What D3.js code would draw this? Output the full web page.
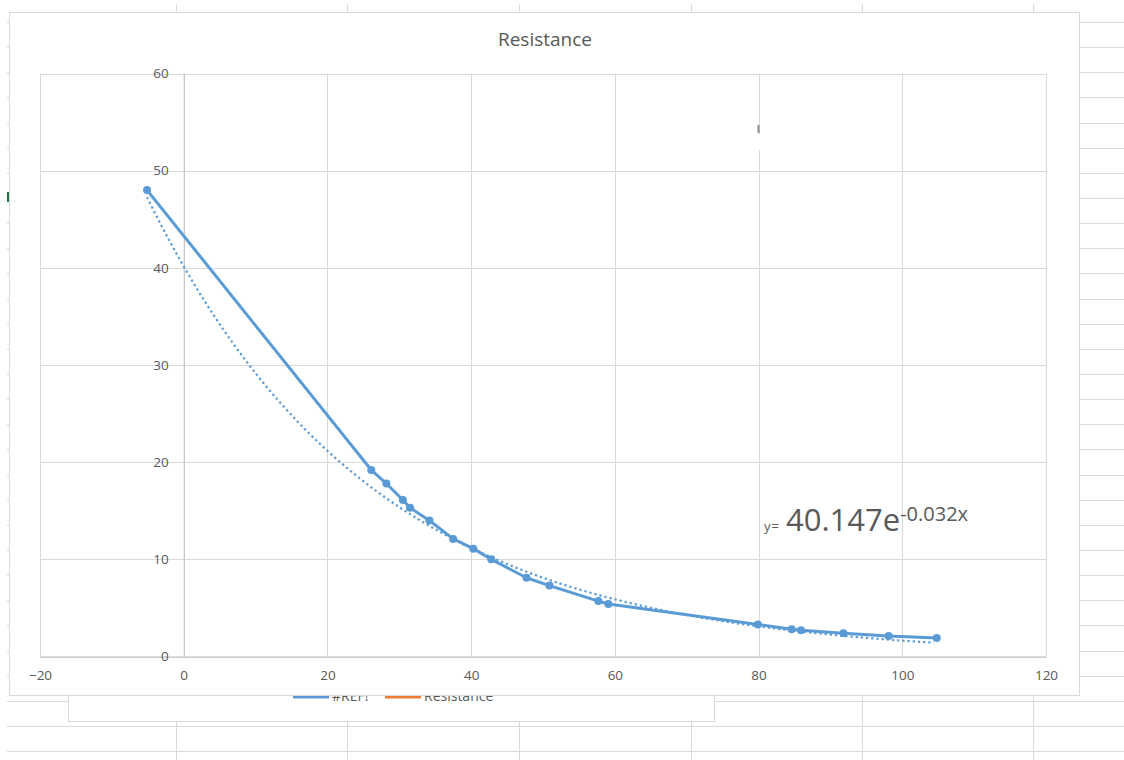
<!DOCTYPE html>
<html>
<head>
<meta charset="utf-8">
<script src="https://cdn.jsdelivr.net/npm/d3@7"></script>
<style>
  body { margin: 0; background: #fff; }
  svg { display: block; font-family: "Open Sans", "Noto Sans", sans-serif; }
</style>
</head>
<body>
<div id="chart"></div>
<script>
const xValues = [-5.1, 26.1, 28.2, 30.5, 31.5, 34.2, 37.5, 40.3, 42.8, 47.7, 50.9, 57.7, 59.1, 79.9, 84.6, 85.9, 91.8, 98.1, 104.8];
const resistance = [48.0, 19.2, 17.8, 16.1, 15.3, 14.0, 12.1, 11.1, 10.0, 8.1, 7.3, 5.7, 5.4, 3.3, 2.8, 2.7, 2.4, 2.1, 1.9];

const xTicks = [-20, 0, 20, 40, 60, 80, 100, 120];
const yTicks = [0, 10, 20, 30, 40, 50, 60];

// exponential trendline shown on the chart: y = 40.147e^-0.032x
const trendA = 40.147;
const trendB = -0.032;

const legendNames = ["#REF!", "Resistance"];
const legendColours = ["#5B9BD5", "#ED7D31"];

const W = 1124, H = 760;
const blue = "#5B9BD5";
const textCol = "#595959";
const gridCol = "#D9D9D9";

const svg = d3.select("#chart").append("svg")
  .attr("width", W)
  .attr("height", H);

// spreadsheet cells behind the chart
const sheet = svg.append("g").attr("stroke", "#DADADA").attr("stroke-width", 1);
d3.range(0, 30).forEach((k) => {
  const yy = Math.round(22 + 25.14 * k) + 0.5;
  sheet.append("line").attr("x1", 7).attr("x2", W).attr("y1", yy).attr("y2", yy);
});
[176, 347, 519, 691, 862, 1033].forEach((cx) => {
  sheet.append("line").attr("x1", cx + 0.5).attr("x2", cx + 0.5).attr("y1", 4).attr("y2", H);
});

// legend box, mostly hidden behind the chart frame
const legend = svg.append("g");
legend.append("rect")
  .attr("x", 68.5).attr("y", 660.5)
  .attr("width", 646).attr("height", 61)
  .attr("fill", "#fff").attr("stroke", gridCol);
const legendX = [293, 385];
legendNames.forEach((name, i) => {
  legend.append("line")
    .attr("x1", legendX[i]).attr("x2", legendX[i] + 36)
    .attr("y1", 697).attr("y2", 697)
    .attr("stroke", legendColours[i]).attr("stroke-width", 3);
  legend.append("text")
    .attr("x", legendX[i] + 39).attr("y", 700.5)
    .attr("fill", textCol)
    .style("font-size", "14px")
    .text(name);
});

// chart frame
svg.append("rect")
  .attr("x", 9.5).attr("y", 12.5)
  .attr("width", 1070).attr("height", 683)
  .attr("fill", "#fff").attr("stroke", gridCol);

svg.append("rect").attr("x", 7).attr("y", 192).attr("width", 2).attr("height", 10).attr("fill", "#217346");

svg.append("text")
  .attr("x", 545).attr("y", 46)
  .attr("text-anchor", "middle")
  .attr("fill", textCol)
  .style("font-size", "19px")
  .text("Resistance");

const x = d3.scaleLinear().domain([-20, 120]).range([40, 1046]);
const y = d3.scaleLinear().domain([0, 60]).range([656.5, 73.5]);

const grid = svg.append("g").attr("stroke", gridCol).attr("stroke-width", 1);
grid.selectAll(".vg").data(xTicks).join("line")
  .attr("x1", (d) => Math.round(x(d)) + 0.5).attr("x2", (d) => Math.round(x(d)) + 0.5)
  .attr("y1", y(60)).attr("y2", y(0));
grid.selectAll(".hg").data(yTicks).join("line")
  .attr("x1", x(-20)).attr("x2", x(120))
  .attr("y1", (d) => Math.round(y(d)) + 0.5).attr("y2", (d) => Math.round(y(d)) + 0.5);

// odd little leftover mark on the 80 gridline
svg.append("rect").attr("x", 756).attr("y", 134).attr("width", 5).attr("height", 16).attr("fill", "#fff");
svg.append("line").attr("x1", 758.5).attr("x2", 758.5).attr("y1", 125).attr("y2", 133)
  .attr("stroke", "#8c8c8c").attr("stroke-width", 2);

// axes cross at 0
const xAxis = svg.append("g")
  .attr("transform", `translate(0,${y(0)})`)
  .call(d3.axisBottom(x).tickValues(xTicks).tickSize(0).tickPadding(14));
const yAxis = svg.append("g")
  .attr("transform", `translate(${x(0)},0)`)
  .call(d3.axisLeft(y).tickValues(yTicks).tickSize(0).tickPadding(15));
[xAxis, yAxis].forEach((g) => {
  g.select(".domain").attr("stroke", "#BFBFBF");
  g.selectAll("text")
    .attr("fill", textCol)
    .style("font-family", "'Open Sans', sans-serif")
    .style("font-size", "13.5px");
});

const points = xValues.map((v, i) => ({ x: v, y: resistance[i] }));

const line = d3.line()
  .x((d) => x(d.x))
  .y((d) => y(d.y));

// trendline
const trendPts = d3.range(xValues[0], xValues[xValues.length - 1] + 0.01, 0.5)
  .map((v) => ({ x: v, y: trendA * Math.exp(trendB * v) }));
svg.append("path")
  .datum(trendPts)
  .attr("fill", "none")
  .attr("stroke", blue)
  .attr("stroke-width", 2.25)
  .attr("stroke-dasharray", "2.2 3")
  .attr("d", line.curve(d3.curveBasis));

svg.append("path")
  .datum(points)
  .attr("fill", "none")
  .attr("stroke", blue)
  .attr("stroke-width", 3)
  .attr("stroke-linejoin", "round")
  .attr("d", line.curve(d3.curveLinear));

svg.append("g").selectAll("circle")
  .data(points)
  .join("circle")
  .attr("cx", (d) => x(d.x))
  .attr("cy", (d) => y(d.y))
  .attr("r", 4)
  .attr("fill", blue);

// equation label
svg.append("text")
  .attr("x", 764).attr("y", 531)
  .attr("fill", textCol)
  .style("font-size", "13px")
  .style("letter-spacing", "1px")
  .text("y=");
const eq = svg.append("text")
  .attr("x", 786).attr("y", 531)
  .attr("fill", textCol);
eq.append("tspan").style("font-size", "31px").text(trendA.toFixed(3) + "e");
eq.append("tspan").attr("dy", -10).style("font-size", "20px").text(trendB + "x");
</script>
</body>
</html>
